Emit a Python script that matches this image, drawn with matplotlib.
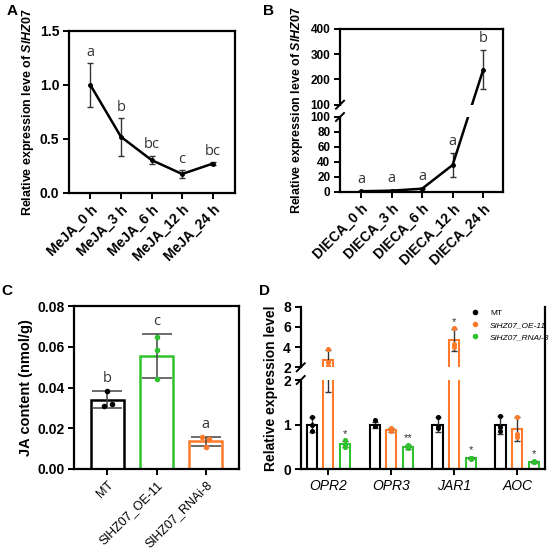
import numpy as np
import matplotlib
matplotlib.use("Agg")
import matplotlib.pyplot as plt
from matplotlib.patches import Rectangle
from matplotlib.lines import Line2D

plt.rcParams['font.family'] = ['Liberation Sans', 'DejaVu Sans']
plt.rcParams['mathtext.fontset'] = 'custom'
plt.rcParams['mathtext.it'] = 'Liberation Sans:italic:bold'
plt.rcParams['mathtext.rm'] = 'Liberation Sans:bold'

# panel A - MeJA time course
a_labels = ["MeJA_0 h", "MeJA_3 h", "MeJA_6 h", "MeJA_12 h", "MeJA_24 h"]
a_mean = [1.0, 0.52, 0.305, 0.176, 0.272]
a_sd = [0.2, 0.175, 0.04, 0.035, 0.015]
a_sig = ["a", "b", "bc", "c", "bc"]

# panel B - DIECA time course
b_labels = ["DIECA_0 h", "DIECA_3 h", "DIECA_6 h", "DIECA_12 h", "DIECA_24 h"]
b_mean = [1.0, 1.8, 4.4, 36.0, 238.0]
b_sd = [0.3, 0.8, 1.0, 16.0, 77.0]
b_sig = ["a", "a", "a", "a", "b"]

# panel C - JA content
c_labels = ["MT", "SlHZ07_OE-11", "SlHZ07_RNAi-8"]
c_mean = [0.034, 0.0555, 0.0135]
c_sd = [0.0043, 0.0106, 0.0023]
c_points = [[0.0385, 0.031, 0.032], [0.0647, 0.0585, 0.044], [0.0156, 0.0146, 0.011]]
c_sig = ["b", "c", "a"]

# panel D - gene expression
d_genes = ["OPR2", "OPR3", "JAR1", "AOC"]
d_series = ["MT", "SlHZ07_OE-11", "SlHZ07_RNAi-8"]
d_mean = [[1.0, 1.0, 1.0, 1.0],
          [2.73, 0.88, 4.7, 0.9],
          [0.56, 0.5, 0.25, 0.17]]
d_sd = [[0.17, 0.07, 0.17, 0.2],
        [1.0, 0.05, 1.1, 0.27],
        [0.07, 0.05, 0.02, 0.02]]
d_points = [[[1.18, 0.86, 1.0], [1.1, 0.97, 0.98], [1.17, 0.93, 0.95], [1.2, 0.95, 0.85]],
            [[3.85, 2.5, 2.1], [0.93, 0.86, 0.87], [5.9, 4.3, 4.0], [1.17, 0.8, 0.72]],
            [[0.65, 0.55, 0.5], [0.55, 0.49, 0.47], [0.26, 0.24, 0.25], [0.18, 0.16, 0.17]]]
d_stars = [["", "", "", ""], ["", "", "*", ""], ["*", "**", "*", "*"]]

W, H = 550, 553
fig = plt.figure(figsize=(W / 100, H / 100), dpi=100)


def box(x0, y0, x1, y1):
    return [x0 / W, 1 - y1 / H, (x1 - x0) / W, (y1 - y0) / H]


def style(ax, ysize=9.5):
    for s in ax.spines.values():
        s.set_linewidth(1.6)
    ax.tick_params(width=1.4, length=4.5, labelsize=ysize, pad=2.5)
    for t in ax.get_yticklabels():
        t.set_fontweight('bold')


sig_font = dict(family='Open Sans', fontsize=10.5, color='#333333', ha='center', va='bottom')

# ---------------- A
axA = fig.add_axes(box(69, 31, 235, 193))
xa = np.arange(len(a_mean))
axA.errorbar(xa, a_mean, yerr=a_sd, color='black', lw=1.8, marker='o', ms=2.5,
             ecolor='#333333', elinewidth=1, capsize=2.5, capthick=1)
for i in range(len(a_mean)):
    axA.text(xa[i], a_mean[i] + a_sd[i] + 0.03, a_sig[i], **sig_font)
axA.set_xlim(-0.7, 4.73)
axA.set_ylim(0, 1.5)
axA.set_yticks([0, 0.5, 1.0, 1.5])
axA.set_yticklabels(["0.0", "0.5", "1.0", "1.5"])
axA.set_xticks(xa)
axA.set_xticklabels(a_labels, rotation=45, ha='right', rotation_mode='anchor', fontweight='bold')
style(axA, 10)
axA.tick_params(axis='x', labelsize=10)
axA.set_ylabel(r"Relative expression leve of $\it{SlHZ07}$", fontsize=9, fontweight='bold', labelpad=3)

# ---------------- B (broken y axis)
b_lo, b_gap, b_hi = 75.0, 12.3, 75.7


def fwd_b(v):
    v = np.asarray(v, dtype=float)
    return np.where(v <= 100, v * b_lo / 100, b_lo + b_gap + (v - 100) * b_hi / 300)


def inv_b(u):
    u = np.asarray(u, dtype=float)
    return np.where(u <= b_lo, u * 100 / b_lo,
                    np.where(u < b_lo + b_gap, 100, 100 + (u - b_lo - b_gap) * 300 / b_hi))


axB = fig.add_axes(box(340, 29, 503, 192))
axB.set_yscale('function', functions=(fwd_b, inv_b))
xb = np.arange(len(b_mean))
axB.errorbar(xb, b_mean, yerr=b_sd, color='black', lw=1.8, marker='o', ms=2.5,
             ecolor='#333333', elinewidth=1, capsize=2.5, capthick=1)
for i in range(len(b_mean)):
    y_top = b_mean[i] + b_sd[i]
    y_txt = inv_b(fwd_b(y_top) + 4)
    axB.text(xb[i], y_txt, b_sig[i], **sig_font)
axB.set_xlim(-0.69, 4.65)
axB.set_ylim(0, 400)
axB.set_yticks([0, 20, 40, 60, 80, 100, 100.001, 200, 300, 400])
axB.set_yticklabels(["0", "20", "40", "60", "80", "100", "100", "200", "300", "400"])
axB.set_xticks(xb)
axB.set_xticklabels(b_labels, rotation=45, ha='right', rotation_mode='anchor', fontweight='bold')
style(axB, 8.5)
axB.tick_params(axis='x', labelsize=10)
axB.spines['left'].set_visible(False)
totB = b_lo + b_gap + b_hi
axB.add_patch(Rectangle((0, b_lo / totB), 1, b_gap / totB, transform=axB.transAxes,
                        facecolor='white', edgecolor='none', zorder=2.4))
axB.plot([0, 0], [0, b_lo / totB], transform=axB.transAxes, color='black', lw=1.6, clip_on=False, zorder=3)
axB.plot([0, 0], [(b_lo + b_gap) / totB, 1], transform=axB.transAxes, color='black', lw=1.6, clip_on=False, zorder=3)
for yy in [b_lo, b_lo + b_gap]:
    axB.plot([-4 / 163, 4 / 163], [(yy - 4) / totB, (yy + 4) / totB], transform=axB.transAxes,
             color='black', lw=1.4, clip_on=False, zorder=3)
axB.set_ylabel(r"Relative expression leve of $\it{SlHZ07}$", fontsize=9, fontweight='bold', labelpad=4)

# ---------------- C
c_colors = ['black', '#2fc22f', '#ff7a2a']
c_jitter = [[0.0, -0.07, 0.09], [0.0, 0.0, 0.0], [-0.07, 0.07, 0.0]]
axC = fig.add_axes(box(74, 306, 239, 469))
xc = np.arange(len(c_mean))
axC.bar(xc, c_mean, width=0.66, facecolor='white', edgecolor=c_colors, linewidth=1.8, zorder=1)
axC.errorbar(xc, c_mean, yerr=c_sd, fmt='none', ecolor='#444444', elinewidth=1.1, capsize=11, capthick=1.1, zorder=2)
for i in range(len(c_mean)):
    axC.scatter(xc[i] + np.array(c_jitter[i]), c_points[i], s=9, color=c_colors[i], zorder=3)
    axC.text(xc[i], c_mean[i] + c_sd[i] + 0.0025, c_sig[i], **sig_font)
axC.set_xlim(-0.68, 2.68)
axC.set_ylim(0, 0.08)
axC.set_yticks([0, 0.02, 0.04, 0.06, 0.08])
axC.set_yticklabels(["0.00", "0.02", "0.04", "0.06", "0.08"])
axC.set_xticks(xc)
axC.set_xticklabels(c_labels, rotation=45, ha='right', rotation_mode='anchor')
style(axC, 10)
axC.tick_params(axis='x', labelsize=9)
axC.set_ylabel("JA content (nmol/g)", fontsize=10.5, fontweight='bold', labelpad=3)

# ---------------- D (broken y axis)
d_lo, d_gap, d_hi = 89.3, 12.7, 60.6


def fwd_d(v):
    v = np.asarray(v, dtype=float)
    return np.where(v <= 2, v * d_lo / 2, d_lo + d_gap + (v - 2) * d_hi / 6)


def inv_d(u):
    u = np.asarray(u, dtype=float)
    return np.where(u <= d_lo, u * 2 / d_lo,
                    np.where(u < d_lo + d_gap, 2, 2 + (u - d_lo - d_gap) * 6 / d_hi))


d_colors = ['black', '#ff7a2a', '#2fc22f']
d_offsets = [-0.267, 0.0, 0.267]
axD = fig.add_axes(box(300.7, 306.7, 545, 469.3))
axD.set_yscale('function', functions=(fwd_d, inv_d))
xd = np.arange(len(d_genes))
for k in range(len(d_series)):
    xs = xd + d_offsets[k]
    axD.bar(xs, d_mean[k], width=0.16, facecolor='white', edgecolor=d_colors[k], linewidth=1.5, zorder=1)
    axD.errorbar(xs, d_mean[k], yerr=d_sd[k], fmt='none', ecolor='#333333', elinewidth=1,
                 capsize=2.5, capthick=1, zorder=2)
    for g in range(len(d_genes)):
        axD.scatter([xs[g]] * 3, d_points[k][g], s=7, color=d_colors[k], zorder=2.2)
        if d_stars[k][g]:
            y_top = d_mean[k][g] + d_sd[k][g]
            axD.text(xs[g], inv_d(fwd_d(y_top) + 2), d_stars[k][g], fontsize=8, color='#333333',
                     ha='center', va='bottom')
axD.set_xlim(-0.44, 3.44)
axD.set_ylim(0, 8)
axD.set_yticks([0, 1, 2, 2.0001, 4, 6, 8])
axD.set_yticklabels(["0", "1", "2", "2", "4", "6", "8"])
axD.set_xticks(xd)
axD.set_xticklabels(d_genes, fontstyle='italic')
style(axD, 10)
axD.tick_params(axis='x', labelsize=10)
axD.spines['top'].set_visible(False)
axD.spines['left'].set_visible(False)
totD = d_lo + d_gap + d_hi
axD.add_patch(Rectangle((0, d_lo / totD), 1, d_gap / totD, transform=axD.transAxes,
                        facecolor='white', edgecolor='none', zorder=2.4))
axD.plot([0, 0], [0, d_lo / totD], transform=axD.transAxes, color='black', lw=1.6, clip_on=False, zorder=3)
axD.plot([0, 0], [(d_lo + d_gap) / totD, 1], transform=axD.transAxes, color='black', lw=1.6, clip_on=False, zorder=3)
for yy in [d_lo, d_lo + d_gap]:
    axD.plot([-4 / 244, 4 / 244], [(yy - 4) / totD, (yy + 4) / totD], transform=axD.transAxes,
             color='black', lw=1.4, clip_on=False, zorder=3)
axD.set_ylabel("Relative expression level", fontsize=10, fontweight='bold', labelpad=4)
handles = [Line2D([], [], ls='none', marker='o', ms=3, color=c) for c in d_colors]
leg = fig.legend(handles, d_series, loc='upper left', bbox_to_anchor=(466 / W, 1 - 305 / H),
                 frameon=False, fontsize=6, handlelength=1.2, handletextpad=1.2, labelspacing=0.5,
                 borderpad=0)
for t in leg.get_texts()[1:]:
    t.set_fontstyle('italic')

# panel letters
for lab, px, py in [("A", 12, 11), ("B", 268, 11), ("C", 7, 291), ("D", 265, 291)]:
    fig.text(px / W, 1 - py / H, lab, fontsize=11, fontweight='bold', ha='center', va='center')

fig.savefig("out.png", dpi=100)
